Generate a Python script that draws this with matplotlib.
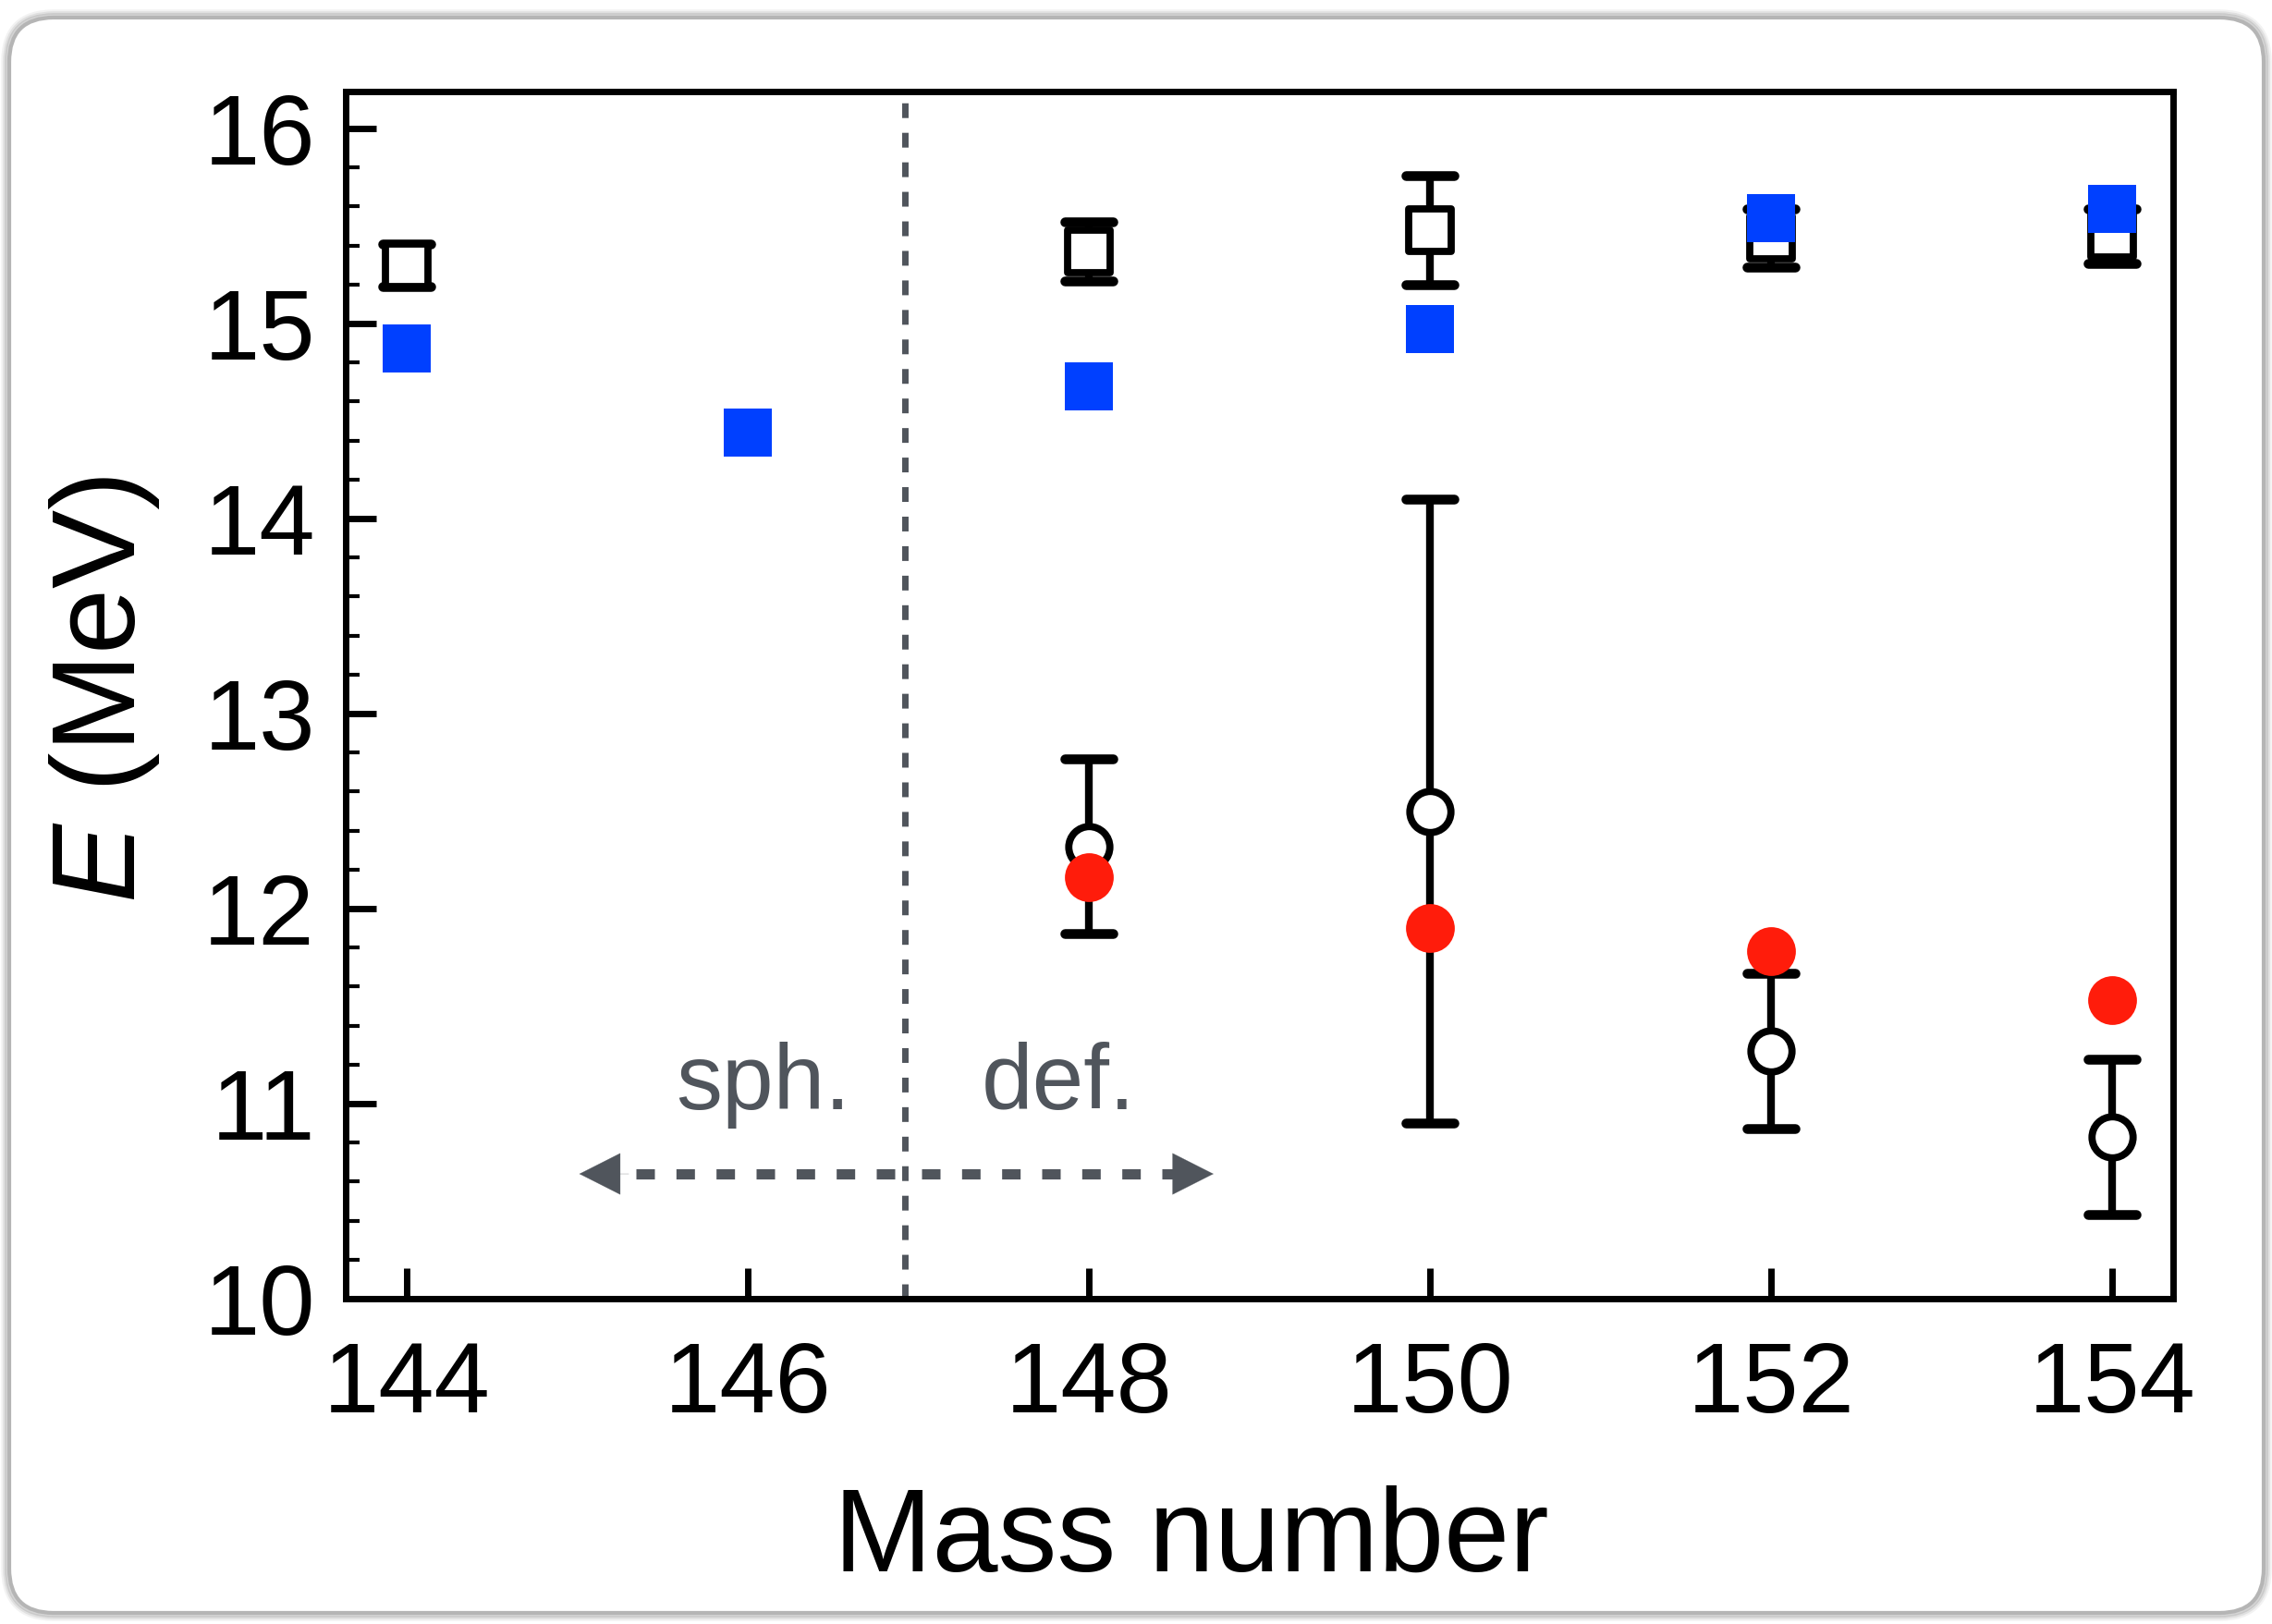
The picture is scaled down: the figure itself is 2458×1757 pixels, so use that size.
#Grafica de energia vs numero de masa
import matplotlib.pyplot as plt
from matplotlib.markers import MarkerStyle
from matplotlib.patches import FancyBboxPatch
from matplotlib.transforms import IdentityTransform

plt.rcParams['font.family'] = ['Liberation Sans', 'DejaVu Sans']
plt.rcParams['mathtext.fontset'] = 'custom'
plt.rcParams['mathtext.it'] = 'Liberation Sans:italic'
plt.rcParams['mathtext.rm'] = 'Liberation Sans'

#Datos
masa_cuad = [144, 148, 150, 152, 154]
e_cuad = [15.30, 15.37, 15.48, 15.44, 15.45]
err_cuad = [0.11, 0.15, 0.28, 0.15, 0.14]

masa_azul = [144, 146, 148, 150, 152, 154]
e_azul = [14.87, 14.44, 14.68, 14.97, 15.54, 15.59]

masa_circ = [148, 150, 152, 154]
e_circ = [12.32, 12.50, 11.27, 10.83]
err_circ = [0.45, 1.60, 0.40, 0.40]
e_rojo = [12.16, 11.90, 11.78, 11.53]

x_ticks = [144, 146, 148, 150, 152, 154]
y_ticks = [10, 11, 12, 13, 14, 15, 16]
limite = 146.92  #separacion sph./def.

azul = '#0040ff'
rojo = '#ff1c0b'
gris = '#50555c'

fig = plt.figure(figsize=(12.29, 8.785), dpi=200)

#marco redondeado con sombra
for i, a in enumerate([0.05, 0.07, 0.10]):
    d = 6 - 2 * i
    sombra = FancyBboxPatch((10 - d, 12 - d), 2439 + 2 * d, 1726 + 2 * d,
                            boxstyle='round,pad=0,rounding_size=%d' % (48 + d),
                            transform=IdentityTransform(), facecolor='none',
                            edgecolor='black', alpha=a, lw=2, zorder=-3)
    fig.add_artist(sombra)
marco = FancyBboxPatch((10, 12), 2439, 1726, boxstyle='round,pad=0,rounding_size=48',
                       transform=IdentityTransform(), facecolor='white',
                       edgecolor='#b5b5b5', lw=1.5, zorder=-2)
fig.add_artist(marco)

ax = fig.add_axes([0.1522, 0.2003, 0.8043, 0.7434])

#linea vertical
ax.axvline(limite, color=gris, lw=2.5, ls=(0, (2.3, 2.3)), zorder=1)

#cuadros abiertos con barras de error
eb = ax.errorbar(masa_cuad, e_cuad, yerr=err_cuad, fmt='none', ecolor='black',
                 elinewidth=3.0, capsize=9.5, capthick=3.8, zorder=2)
for cap in eb[1]:
    cap.set_marker(MarkerStyle('_', capstyle='round'))
ax.plot(masa_cuad, e_cuad, ls='none', marker=MarkerStyle('s', joinstyle='round'),
        ms=16.3, mfc='white', mec='black', mew=2.8, zorder=3)

#cuadros azules
ax.plot(masa_azul, e_azul, ls='none', marker='s', ms=19, mfc=azul, mew=0, zorder=4)

#circulos abiertos con barras de error
eb2 = ax.errorbar(masa_circ, e_circ, yerr=err_circ, fmt='none', ecolor='black',
                  elinewidth=3.0, capsize=9.5, capthick=3.8, zorder=2)
for cap in eb2[1]:
    cap.set_marker(MarkerStyle('_', capstyle='round'))
ax.plot(masa_circ, e_circ, ls='none', marker='o', ms=16, mfc='white', mec='black',
        mew=2.8, zorder=3)

#circulos rojos
ax.plot(masa_circ, e_rojo, ls='none', marker='o', ms=19, mfc=rojo, mew=0, zorder=4)

#flechas sph. / def.
y_fl = 10.64
ax.plot([limite - 0.06, 145.2], [y_fl, y_fl], color=gris, lw=4,
        ls=(0, (1.8, 2.1)), dash_capstyle='butt', zorder=1)
ax.plot([limite + 0.1, 148.55], [y_fl, y_fl], color=gris, lw=4,
        ls=(0, (1.8, 2.1)), dash_capstyle='butt', zorder=1)
for tip, cola in [(145.01, 145.3), (148.73, 148.44)]:
    ax.annotate('', xy=(tip, y_fl), xytext=(cola, y_fl),
                arrowprops=dict(arrowstyle='-|>,head_length=1.58,head_width=0.8',
                                color=gris, lw=0.1, shrinkA=0, shrinkB=0,
                                mutation_scale=10))
ax.text(146.09, 10.97, 'sph.', color=gris, fontsize=36, ha='center', va='baseline')
ax.text(147.82, 10.97, 'def.', color=gris, fontsize=36, ha='center', va='baseline')

#ejes
ax.set_xlim(143.64, 154.36)
ax.set_ylim(10, 16.19)
ax.set_xticks(x_ticks)
ax.set_yticks(y_ticks)
ax.set_yticks([10 + 0.2 * i for i in range(31) if i % 5 != 0], minor=True)
ax.tick_params(axis='both', which='major', direction='in', length=12, width=2.5,
               labelsize=39, pad=12)
ax.tick_params(axis='x', which='major', pad=16)
ax.tick_params(axis='y', which='minor', direction='in', length=5.4, width=1.5)
ax.tick_params(top=False, right=False)
for s in ax.spines.values():
    s.set_linewidth(2.5)

ax.set_xlabel('Mass number', fontsize=46)
ax.xaxis.set_label_coords(0.4626, -0.154)
ax.set_ylabel(r'$E$ (MeV)', fontsize=46)
ax.yaxis.set_label_coords(-0.1006, 0.505)

fig.savefig('out.png', dpi=200)
